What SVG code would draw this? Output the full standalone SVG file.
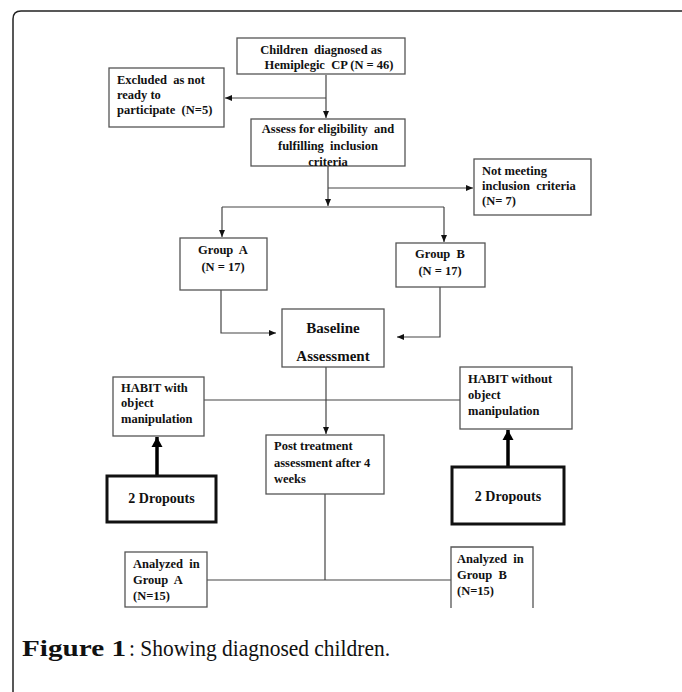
<svg xmlns="http://www.w3.org/2000/svg" width="682" height="692" viewBox="0 0 682 692">
<style>
.box{fill:#fff;stroke:#555;stroke-width:1.3}
.thick{fill:#fff;stroke:#111;stroke-width:3}
.t{font-family:"Liberation Serif","Times New Roman",serif;font-weight:bold;font-size:12.5px;fill:#111;white-space:pre}
.c{text-anchor:middle}
.d{font-family:"Liberation Serif","Times New Roman",serif;font-weight:bold;font-size:14px;fill:#111;text-anchor:middle}
.ln{fill:none;stroke:#444;stroke-width:1.2}
.tk{fill:none;stroke:#000;stroke-width:3.5}
.cap{font-family:"Liberation Serif","Times New Roman",serif;font-size:23px;fill:#111}
</style>
<defs>
<marker id="a" markerUnits="userSpaceOnUse" markerWidth="8" markerHeight="8" refX="7" refY="4" orient="auto">
<path d="M0,1 L7,4 L0,7 Z" fill="#111"/>
</marker>
<marker id="b" markerUnits="userSpaceOnUse" markerWidth="12" markerHeight="12" refX="10" refY="6" orient="auto">
<path d="M0,0.5 L10,6 L0,11.5 Z" fill="#000"/>
</marker>
</defs>
<rect width="682" height="692" fill="#fff"/>
<path d="M13,692 V19 Q13,11 21,11 H682" fill="none" stroke="#222" stroke-width="1.5"/>
<g id="connectors">
<path class="ln" d="M326,75 V118" marker-end="url(#a)"/>
<path class="ln" d="M326,98 H225" marker-end="url(#a)"/>
<path class="ln" d="M328,166 V206" marker-end="url(#a)"/>
<path class="ln" d="M328,188 H473" marker-end="url(#a)"/>
<path class="ln" d="M222,207 H444"/>
<path class="ln" d="M222,207 V237" marker-end="url(#a)"/>
<path class="ln" d="M444,207 V242" marker-end="url(#a)"/>
<path class="ln" d="M221,290 V333 H276" marker-end="url(#a)"/>
<path class="ln" d="M440,287 V337 H397" marker-end="url(#a)"/>
<path class="ln" d="M326,367 V434" marker-end="url(#a)"/>
<path class="ln" d="M204,400 H460"/>
<path class="ln" d="M325,494 V580"/>
<path class="ln" d="M207,580 H451"/>
<path class="tk" d="M157,475 V437" marker-end="url(#b)"/>
<path class="tk" d="M508,466 V430" marker-end="url(#b)"/>
</g>
<g id="n-children">
<rect class="box" x="237" y="38" width="168" height="36"/>
<text class="t c" x="321" y="54">Children  diagnosed as</text>
<text class="t c" x="329" y="69">Hemiplegic  CP (N = 46)</text>
</g>
<g id="n-excluded">
<rect class="box" x="109" y="68" width="115" height="59"/>
<text class="t" x="117" y="84">Excluded  as not</text>
<text class="t" x="117" y="99">ready to</text>
<text class="t" x="117" y="114">participate  (N=5)</text>
</g>
<g id="n-assess">
<rect class="box" x="251" y="119" width="154" height="47"/>
<text class="t c" x="328" y="133">Assess for eligibility  and</text>
<text class="t c" x="328" y="150">fulfilling  inclusion</text>
<text class="t c" x="328" y="166">criteria</text>
</g>
<g id="n-notmeeting">
<rect class="box" x="474" y="159" width="117" height="56"/>
<text class="t" x="482" y="175">Not meeting</text>
<text class="t" x="482" y="190">inclusion  criteria</text>
<text class="t" x="482" y="205">(N= 7)</text>
</g>
<g id="n-groupA">
<rect class="box" x="180" y="238" width="87" height="52"/>
<text class="t c" x="223" y="254">Group  A</text>
<text class="t c" x="223" y="271">(N = 17)</text>
</g>
<g id="n-groupB">
<rect class="box" x="396" y="243" width="89" height="44"/>
<text class="t c" x="440" y="258">Group  B</text>
<text class="t c" x="440" y="275">(N = 17)</text>
</g>
<g id="n-baseline">
<rect class="box" x="282" y="309" width="102" height="58"/>
<text class="t c" x="333" y="333" style="font-size:15px">Baseline</text>
<text class="t c" x="333" y="361" style="font-size:15px">Assessment</text>
</g>
<g id="n-habitA">
<rect class="box" x="113" y="377" width="91" height="59"/>
<text class="t" x="121" y="392">HABIT with</text>
<text class="t" x="121" y="407">object</text>
<text class="t" x="121" y="423">manipulation</text>
</g>
<g id="n-habitB">
<rect class="box" x="460" y="367" width="112" height="62"/>
<text class="t" x="468" y="383">HABIT without</text>
<text class="t" x="468" y="399">object</text>
<text class="t" x="468" y="415">manipulation</text>
</g>
<g id="n-dropA">
<rect class="thick" x="107" y="476" width="109" height="46"/>
<text class="d" x="161.5" y="503">2 Dropouts</text>
</g>
<g id="n-dropB">
<rect class="thick" x="452" y="467" width="112" height="57"/>
<text class="d" x="508" y="501">2 Dropouts</text>
</g>
<g id="n-post">
<rect class="box" x="266" y="435" width="118" height="59"/>
<text class="t" x="274" y="450">Post treatment</text>
<text class="t" x="274" y="467">assessment after 4</text>
<text class="t" x="274" y="483">weeks</text>
</g>
<g id="n-analyzedA">
<rect class="box" x="125" y="552" width="82" height="55"/>
<text class="t" x="133" y="568">Analyzed  in</text>
<text class="t" x="133" y="584">Group  A</text>
<text class="t" x="133" y="600">(N=15)</text>
</g>
<g id="n-analyzedB">
<path class="box" d="M451,608 V547 H533 V608"/>
<text class="t" x="457" y="563">Analyzed  in</text>
<text class="t" x="457" y="579">Group  B</text>
<text class="t" x="457" y="595">(N=15)</text>
</g>
<text class="cap" x="22" y="656" font-weight="bold" textLength="104" lengthAdjust="spacingAndGlyphs">Figure 1</text>
<text class="cap" x="129" y="656" textLength="261" lengthAdjust="spacingAndGlyphs">: Showing diagnosed children.</text>
</svg>
